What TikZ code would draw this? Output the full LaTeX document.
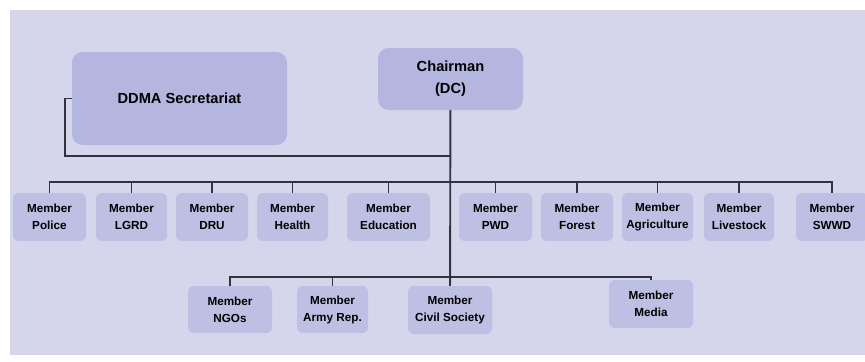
\documentclass[tikz,border=0pt]{standalone}
\usepackage{fontspec}
\setmainfont{Liberation Sans}
\definecolor{panelbg}{HTML}{D5D6EB}
\definecolor{headbox}{HTML}{B4B6E0}
\definecolor{memberbox}{HTML}{BDC0E3}
\definecolor{linkcol}{HTML}{33333F}
\begin{document}
\begin{tikzpicture}[x=0.03cm, y=-0.03cm,
    headnode/.style={fill=headbox, rounded corners=9pt, inner sep=0pt, align=center,
      font=\fontsize{12.5}{19}\selectfont\bfseries},
    membernode/.style={fill=memberbox, rounded corners=5pt, inner sep=0pt, align=center,
      minimum height=48*0.03cm, font=\fontsize{10}{14.5}\selectfont\bfseries},
    link/.style={draw=linkcol, line width=1.6pt}]
  \useasboundingbox (0,0) rectangle (865,361);
  \fill[panelbg] (10,10) rectangle (865,355);
  % heads
  \node[headnode, minimum width=215*0.03cm, minimum height=93*0.03cm] (sec) at (179.5,98.5) {DDMA Secretariat};
  \node[headnode, minimum width=145*0.03cm, minimum height=62*0.03cm] (chair) at (450.5,79) {Chairman\\(DC)};
  % first row of members
  \node[membernode, minimum width=73*0.03cm] (police) at (49.5,217) {Member\\Police};
  \node[membernode, minimum width=71*0.03cm] (lgrd) at (131.5,217) {Member\\LGRD};
  \node[membernode, minimum width=72*0.03cm] (dru) at (212,217) {Member\\DRU};
  \node[membernode, minimum width=71*0.03cm] (health) at (292.5,217) {Member\\Health};
  \node[membernode, minimum width=83*0.03cm] (edu) at (388.5,217) {Member\\Education};
  \node[membernode, minimum width=73*0.03cm] (pwd) at (495.5,217) {Member\\PWD};
  \node[membernode, minimum width=72*0.03cm] (forest) at (577,217) {Member\\Forest};
  \node[membernode, minimum width=71*0.03cm] (agri) at (657.5,217) {Member\\Agriculture};
  \node[membernode, minimum width=70*0.03cm] (live) at (739,217) {Member\\Livestock};
  \node[membernode, minimum width=72*0.03cm] (swwd) at (832,217) {Member\\SWWD};
  % second row of members
  \node[membernode, minimum width=84*0.03cm, minimum height=47*0.03cm] (ngo) at (230,309.5) {Member\\NGOs};
  \node[membernode, minimum width=71*0.03cm, minimum height=47*0.03cm] (army) at (332.5,309.5) {Member\\Army Rep.};
  \node[membernode, minimum width=84*0.03cm] (civil) at (450,310) {Member\\Civil Society};
  \node[membernode, minimum width=84*0.03cm] (media) at (651,304) {Member\\Media};
  % connectors
  \coordinate (bracket) at (65,156);
  \coordinate (upperbar) at (450,182);
  \coordinate (lowerbar) at (450,277);
  \draw[link] (chair) -- (civil);
  \draw[link] (sec.west) -- (sec.west -| bracket) |- (chair.south |- bracket);
  \draw[link] (police.north) |- (upperbar) -| (swwd.north);
  \foreach \m in {lgrd, dru, health, edu, pwd, forest, agri, live}
    \draw[link] (\m.north) -- (\m.north |- upperbar);
  \draw[link] (ngo.north) |- (lowerbar) -| (media.north);
  \draw[link] (army.north) -- (army.north |- lowerbar);
\end{tikzpicture}
\end{document}
